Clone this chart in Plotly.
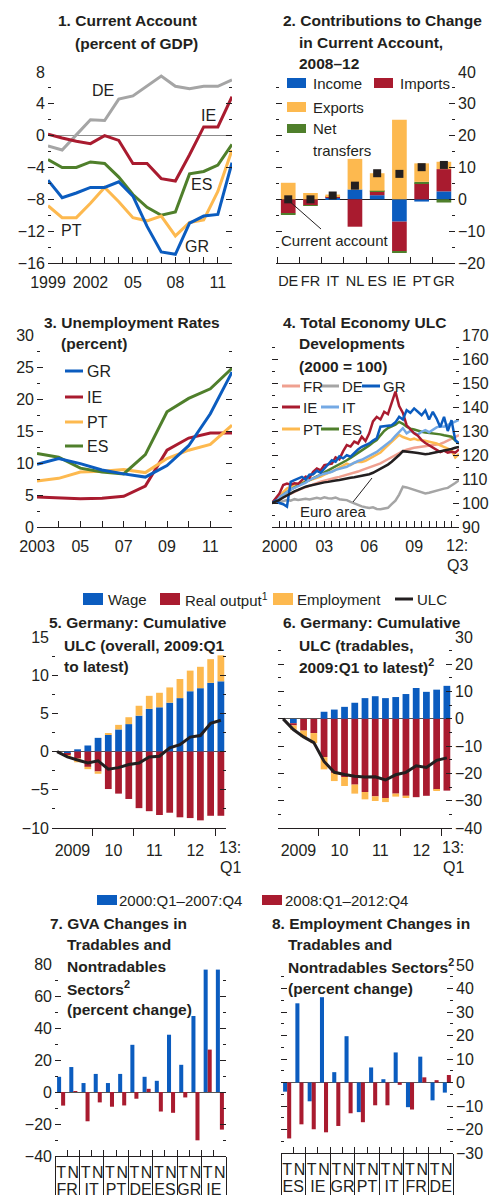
import plotly.graph_objects as go

# The page body adds an 8 px margin, so the figure is drawn 8 px in from the window edge.
OX, OY = 8, 8
W, H = 499 - OX, 1195 - OY
FONT = "Liberation Sans Narrow, Arial Narrow, Liberation Sans, Arial, sans-serif"
BLUE = "#0B5CBF"; RED = "#A91B2F"; YELLOW = "#FDB94F"; GREEN = "#4F7F2B"
GRAY = "#A5A5A5"; SALMON = "#EFA090"; LBLUE = "#74A9E4"; BLACK = "#231F20"

# ---------------- Panel 1: current account (% of GDP) ----------------
years1 = list(range(1999, 2013))
ca_de = [-1.3, -1.8, 0.1, 2.0, 1.9, 4.6, 5.0, 6.2, 7.5, 6.2, 5.9, 6.2, 6.2, 7.0]
ca_ie = [0.2, -0.3, -0.7, -1.0, 0.0, -0.6, -3.5, -3.5, -5.4, -5.7, -2.4, 1.1, 1.1, 4.9]
ca_es = [-3.0, -4.0, -4.0, -3.3, -3.5, -5.2, -7.4, -9.0, -10.0, -9.6, -4.8, -4.5, -3.7, -1.1]
ca_gr = [-5.6, -7.8, -7.2, -6.5, -6.5, -5.8, -7.6, -11.4, -14.6, -14.9, -11.0, -10.1, -9.9, -3.4]
ca_pt = [-8.8, -10.3, -10.3, -8.5, -6.5, -8.3, -10.3, -10.7, -10.1, -12.6, -10.9, -10.6, -7.0, -1.8]
p1_tickvals = [1999, 2002, 2005, 2008, 2011]
p1_ticktext = ["1999", "2002", "05", "08", "11"]

# ---------------- Panel 2: contributions 2008-12 ----------------
countries2 = ["DE", "FR", "IT", "NL", "ES", "IE", "PT", "GR"]
income = [0.0, 0.0, 0.6, 3.1, 1.3, -7.0, -0.7, 2.5]
imports = [-4.4, -1.8, 0.3, -8.6, 1.2, -9.3, 5.0, 7.0]
net_transfers = [-0.3, -0.2, 0.0, 0.0, 0.2, -0.3, 0.5, -1.0]
exports = [5.2, 2.0, 0.6, 9.6, 5.5, 25.0, 5.8, 2.3]
current_account = [0.0, 0.0, 1.2, 4.3, 8.2, 8.0, 10.1, 10.8]

# ---------------- Panel 3: unemployment ----------------
years3 = list(range(2003, 2013))
un_gr = [9.8, 10.7, 9.9, 8.9, 8.3, 7.8, 9.6, 12.7, 17.7, 24.2]
un_ie = [4.7, 4.5, 4.4, 4.5, 4.8, 6.4, 12.0, 13.9, 14.7, 14.7]
un_pt = [7.2, 7.6, 8.6, 8.7, 9.0, 8.5, 10.7, 12.0, 12.9, 15.9]
un_es = [11.5, 10.9, 9.2, 8.6, 8.3, 11.3, 18.0, 20.1, 21.6, 24.8]
p3_tickvals = [2003, 2005, 2007, 2009, 2011]
p3_ticktext = ["2003", "05", "07", "09", "11"]

# ---------------- Panel 4: ULC (2000=100), 2000Q1-2012Q3 ----------------
ulc_ea = [100.0, 100.6, 101.3, 102.3, 103.2, 104.0, 104.8, 105.5, 106.2, 106.8, 107.2, 107.6,
          108.0, 108.4, 108.6, 108.8, 109.2, 109.4, 109.6, 110.0, 110.3, 110.5, 110.7, 111.0,
          111.2, 111.5, 112.0, 112.6, 113.4, 114.2, 115.0, 116.0, 117.2, 118.5, 120.0, 121.6,
          121.5, 121.4, 121.0, 120.8, 120.6, 120.3, 120.5, 120.8, 121.0, 121.3, 121.6, 122.0,
          122.5, 123.0, 123.4]
ulc_de = [100.0, 100.6, 100.3, 100.8, 101.2, 101.0, 101.6, 101.3, 101.4, 101.8, 101.5, 102.0,
          102.2, 101.8, 102.4, 102.0, 101.9, 102.3, 101.6, 101.4, 101.2, 100.5, 99.8, 99.2,
          98.6, 98.2, 97.9, 98.2, 97.5, 97.4, 97.6, 98.0, 99.5, 101.0, 103.5, 106.8,
          106.5, 106.0, 105.5, 105.0, 104.5, 104.0, 104.3, 104.8, 105.2, 105.6, 106.0, 106.3,
          107.2, 108.3, 109.5]
ulc_fr = [100.0, 100.8, 101.6, 102.4, 103.2, 104.0, 104.8, 105.4, 106.0, 106.6, 107.3, 107.9,
          108.4, 108.9, 109.3, 109.8, 110.2, 110.5, 110.9, 111.3, 111.6, 112.1, 112.6, 113.1,
          113.7, 114.2, 114.8, 115.3, 115.8, 116.5, 117.4, 118.3, 119.2, 120.0, 120.8, 121.6,
          122.2, 122.7, 123.0, 123.2, 123.4, 123.6, 123.8, 124.0, 124.2, 124.6, 125.3, 126.0,
          126.8, 127.6, 128.3]
ulc_it = [100.0, 101.0, 102.4, 103.5, 104.5, 105.6, 106.3, 107.0, 107.6, 108.5, 109.6, 110.2,
          110.9, 111.8, 112.2, 112.8, 113.0, 113.8, 114.3, 114.6, 115.1, 116.0, 116.8, 117.5,
          118.0, 118.8, 119.9, 120.6, 121.3, 122.5, 123.8, 125.0, 126.2, 128.0, 129.8, 131.2,
          129.0, 130.0, 129.2, 128.5, 129.7, 130.4, 129.5, 130.6, 131.5, 132.0, 131.8, 132.6,
          133.2, 134.0, 134.6]
ulc_pt = [100.0, 101.6, 103.2, 104.8, 106.0, 106.8, 107.5, 108.0, 108.4, 109.2, 109.5, 110.0,
          110.2, 111.0, 111.8, 112.5, 113.0, 113.8, 114.8, 115.6, 116.4, 115.8, 116.8, 117.2,
          117.1, 117.6, 118.4, 119.2, 119.9, 121.0, 122.6, 124.0, 125.5, 127.0, 128.4, 127.5,
          126.9, 126.4, 126.8, 126.2, 126.2, 125.8, 125.6, 125.2, 124.8, 124.0, 123.4, 122.6,
          122.0, 119.0, 120.4]
ulc_es = [100.0, 101.2, 102.4, 103.6, 104.6, 105.6, 106.6, 107.4, 108.1, 108.8, 109.6, 110.3,
          110.9, 111.8, 112.8, 113.6, 114.4, 115.2, 116.2, 117.0, 117.8, 118.8, 119.8, 121.0,
          122.0, 123.0, 124.0, 125.2, 126.2, 128.2, 130.0, 131.2, 132.0, 132.6, 133.8, 133.0,
          131.8, 131.0, 130.6, 130.0, 129.7, 129.4, 129.2, 129.0, 129.0, 128.6, 128.2, 127.8,
          127.6, 126.0, 124.8]
ulc_gr = [100.0, 101.0, 100.0, 99.5, 98.5, 108.8, 109.5, 110.2, 110.9, 109.8, 111.8, 112.0,
          113.4, 112.6, 114.2, 116.0, 117.8, 117.2, 119.4, 118.6, 119.9, 119.3, 121.0, 122.3,
          123.4, 124.2, 124.8, 126.0, 126.9, 131.8, 132.0, 132.2, 132.4, 133.6, 135.9, 134.8,
          138.7, 137.6, 139.4, 138.0, 136.6, 138.6, 134.8, 138.0, 135.2, 131.6, 135.9, 130.0,
          134.5, 126.2, 124.8]
ulc_ie = [100.0, 102.0, 104.0, 107.5, 108.1, 107.6, 108.2, 108.0, 109.5, 111.0, 110.5, 113.0,
          114.4, 113.6, 115.8, 116.0, 116.4, 119.0, 118.2, 121.5, 124.1, 123.5, 125.6, 124.8,
          127.6, 125.8, 129.0, 134.0, 135.9, 134.8, 138.0, 137.0, 141.5, 146.4, 140.4, 137.5,
          132.4, 130.5, 129.0, 128.0, 126.2, 125.0, 124.0, 123.0, 122.0, 121.2, 121.8, 121.0,
          121.3, 121.0, 122.3]
quarters4 = [y + q / 4 for y in range(2000, 2013) for q in range(4)][:len(ulc_ea)]
p4_tickvals = [2000.5, 2003.5, 2006.5, 2009.5]
p4_ticktext = ["2000", "03", "06", "09"]

# ---------------- Panels 5/6: Germany cumulative ULC, 2009Q1-2013Q1 ----------------
quarters5 = ["2009Q1", "2009Q2", "2009Q3", "2009Q4", "2010Q1", "2010Q2", "2010Q3", "2010Q4",
             "2011Q1", "2011Q2", "2011Q3", "2011Q4", "2012Q1", "2012Q2", "2012Q3", "2012Q4", "2013Q1"]
wage5 = [-0.3, 0.3, 0.8, 1.8, 2.2, 2.9, 3.6, 4.7, 5.6, 5.8, 6.4, 7.0, 7.9, 8.3, 9.0, 9.2]
output5 = [-0.2, -0.9, -2.0, -2.6, -4.9, -5.5, -6.2, -7.4, -7.8, -8.3, -8.0, -8.6, -8.7, -9.0, -8.4, -8.4]
employ5 = [-0.1, -0.5, -0.3, -0.3, 0.2, 0.6, 0.9, 1.3, 1.7, 1.9, 2.0, 2.5, 2.7, 2.8, 3.1, 3.4]
ulc5 = [0.0, -0.7, -1.1, -1.5, -1.2, -2.3, -2.1, -1.7, -1.5, -0.7, -0.6, 0.5, 0.9, 1.9, 2.1, 3.7, 4.1]
wage6 = [-1.6, 0.0, 0.0, 2.6, 3.4, 4.4, 5.9, 7.6, 8.3, 7.6, 8.0, 9.1, 11.3, 9.9, 10.7, 12.1]
output6 = [-0.8, -4.3, -5.2, -14.0, -19.8, -21.3, -24.1, -26.8, -28.4, -29.0, -27.4, -28.2, -28.7, -28.2, -25.9, -26.3]
employ6 = [-1.6, -2.4, -3.7, -4.5, -3.0, -3.3, -3.3, -2.7, -1.7, -1.5, -1.1, -0.8, 0.0, 0.0, -0.4, 0.0]
ulc6 = [0.0, -3.9, -6.6, -8.7, -15.6, -19.6, -20.4, -21.0, -21.3, -21.2, -22.4, -20.5, -19.6, -17.2, -17.8, -15.2, -14.3]
year_labels56 = ["2009", "10", "11", "12"]

# ---------------- Panel 7: GVA changes ----------------
countries7 = ["FR", "IT", "PT", "DE", "ES", "GR", "IE"]
sectors = ["T", "N"]
gva_0007 = [9.5, 15.6, 5.6, 11.3, 5.6, 11.3, 29.5, 9.5, 7.0, 35.8, 17.0, 47.5, 76.5, 76.5]
gva_0812 = [-8.5, 0.3, -18.3, -6.5, -9.2, -8.4, -4.2, 2.0, -12.2, -13.0, -3.4, -30.2, 26.5, -23.5]

# ---------------- Panel 8: employment changes ----------------
countries8 = ["ES", "IE", "GR", "PT", "IT", "FR", "DE"]
emp_0007 = [-3.9, 33.7, -8.0, 36.3, 4.4, 19.7, -12.6, 6.4, 1.4, 12.8, -10.5, 11.0, -7.6, -4.3]
emp_0812 = [-23.8, -17.8, -19.9, -21.2, -18.5, -13.1, -16.9, -9.7, -9.7, -1.0, -11.5, 2.2, 1.0, 3.2]

# =====================================================================
def PX(x):
    return (x - OX) / W

def PY(y):
    return 1 - (y - OY) / H

def dx(a, b):
    return [PX(a), PX(b)]

def dy(top, bot):
    return [PY(bot), PY(top)]

TICKFONT = dict(family=FONT, size=16, color=BLACK)

def stack_bases(series_list):
    n = len(series_list[0])
    pos = [0.0] * n
    neg = [0.0] * n
    out = []
    for s in series_list:
        b = []
        for i, v in enumerate(s):
            if v >= 0:
                b.append(pos[i]); pos[i] += v
            else:
                b.append(neg[i]); neg[i] += v
        out.append(b)
    return out

fig = go.Figure()

# Panel 1
for vals, col in [(ca_de, GRAY), (ca_ie, RED), (ca_es, GREEN), (ca_pt, YELLOW), (ca_gr, BLUE)]:
    fig.add_trace(go.Scatter(x=years1, y=vals, mode="lines", line=dict(color=col, width=3),
                             xaxis="x", yaxis="y", showlegend=False, hoverinfo="skip"))

# Panel 2
s2 = [income, imports, net_transfers, exports]
c2 = [BLUE, RED, GREEN, YELLOW]
for vals, base, col in zip(s2, stack_bases(s2), c2):
    fig.add_trace(go.Bar(x=countries2, y=vals, base=base, marker=dict(color=col, line=dict(width=0)),
                         offsetgroup="p2", xaxis="x2", yaxis="y2", showlegend=False))
fig.add_trace(go.Scatter(x=countries2, y=current_account, mode="markers",
                         marker=dict(symbol="square", size=8, color=BLACK),
                         xaxis="x2", yaxis="y2", showlegend=False))

# Panel 3
for vals, col in [(un_ie, RED), (un_pt, YELLOW), (un_es, GREEN), (un_gr, BLUE)]:
    fig.add_trace(go.Scatter(x=years3, y=vals, mode="lines", line=dict(color=col, width=3),
                             xaxis="x3", yaxis="y3", showlegend=False))

# Panel 4
for vals, col in [(ulc_de, GRAY), (ulc_fr, SALMON), (ulc_pt, YELLOW), (ulc_es, GREEN),
                  (ulc_it, LBLUE), (ulc_ie, RED), (ulc_gr, BLUE), (ulc_ea, BLACK)]:
    fig.add_trace(go.Scatter(x=quarters4, y=vals, mode="lines", line=dict(color=col, width=2.5),
                             xaxis="x4", yaxis="y4", showlegend=False))

# Panels 5 & 6
qidx = list(range(len(quarters5)))
for (w, o, e, u, xa, ya, grp) in [(wage5, output5, employ5, ulc5, "x5", "y5", "p5"),
                                  (wage6, output6, employ6, ulc6, "x6", "y6", "p6")]:
    ss = [w, o, e]
    for vals, base, col in zip(ss, stack_bases(ss), [BLUE, RED, YELLOW]):
        fig.add_trace(go.Bar(x=qidx[1:], y=vals, base=base, marker=dict(color=col, line=dict(width=0)),
                             offsetgroup=grp, xaxis=xa, yaxis=ya, showlegend=False))
    fig.add_trace(go.Scatter(x=qidx, y=u, mode="lines", line=dict(color=BLACK, width=3),
                             xaxis=xa, yaxis=ya, showlegend=False))

# Panels 7 & 8
for (cs, a, b, xa, ya) in [(countries7, gva_0007, gva_0812, "x7", "y7"),
                           (countries8, emp_0007, emp_0812, "x8", "y8")]:
    mx = [[c for c in cs for _ in sectors], [s for _ in cs for s in sectors]]
    fig.add_trace(go.Bar(x=mx, y=a, marker=dict(color=BLUE, line=dict(width=0)),
                         xaxis=xa, yaxis=ya, showlegend=False))
    fig.add_trace(go.Bar(x=mx, y=b, marker=dict(color=RED, line=dict(width=0)),
                         xaxis=xa, yaxis=ya, showlegend=False))

# ---------------- axes ----------------
def yax(xname, top, bot, rng, dtick, mdt, side, zl=None):
    d = dict(domain=dy(top, bot), anchor=xname, range=rng, dtick=dtick, tick0=0, side=side,
             ticks="inside", ticklen=6, tickwidth=1, tickcolor=BLACK, mirror="ticks",
             showline=False, showgrid=False, tickfont=TICKFONT, ticklabelstandoff=2,
             automargin=False,
             minor=dict(dtick=mdt, tick0=0, ticks="inside", ticklen=3, tickwidth=1,
                        tickcolor=BLACK, showgrid=False),
             zeroline=zl is not None, fixedrange=True)
    if zl:
        d.update(zerolinecolor=zl, zerolinewidth=1)
    return d

def xbase(yname, a, b, **kw):
    d = dict(domain=dx(a, b), anchor=yname, showline=True, linecolor=BLACK, linewidth=1,
             showgrid=False, zeroline=False, tickfont=TICKFONT, ticks="inside", ticklen=6,
             tickwidth=1, tickcolor=BLACK, fixedrange=True, automargin=False, tickangle=0)
    d.update(kw)
    return d

def minor_in(dt, t0):
    return dict(dtick=dt, tick0=t0, ticks="inside", ticklen=6, tickwidth=1, tickcolor=BLACK,
                showgrid=False)

layout = dict(
    width=W, height=H, autosize=False, margin=dict(l=0, r=0, t=0, b=0, pad=0),
    paper_bgcolor="white", plot_bgcolor="rgba(0,0,0,0)", barmode="group",
    bargap=0.34, bargroupgap=0, showlegend=False, font=dict(family=FONT, color=BLACK),
)

layout["xaxis"] = xbase("y", 48, 232, range=[1999, 2012], tickmode="array", tickvals=p1_tickvals,
                        ticktext=p1_ticktext, ticklabelstandoff=5, minor=minor_in(1, 1999))
layout["yaxis"] = yax("x", 72, 263, [-16, 8], 4, 2, "left", zl="#8C8C8C")

layout["xaxis2"] = xbase("y2", 276, 455, type="category", range=[-0.55, 7.5], tickson="boundaries",
                         ticklabelstandoff=5, tickfont=dict(family=FONT, size=14.5, color=BLACK))
layout["yaxis2"] = yax("x2", 72, 263, [-20, 40], 10, 5, "right", zl=BLACK)

layout["xaxis3"] = xbase("y3", 37, 232, range=[2003, 2012], tickmode="array", tickvals=p3_tickvals,
                         ticktext=p3_ticktext, ticklabelstandoff=5, minor=minor_in(1, 2003))
layout["yaxis3"] = yax("x3", 335, 527, [0, 30], 5, 2.5, "left")

layout["xaxis4"] = xbase("y4", 272, 459, range=[2000, 2012.5], tickmode="array", tickvals=p4_tickvals,
                         ticktext=p4_ticktext, ticklabelstandoff=5, minor=minor_in(0.5, 2000))
layout["yaxis4"] = yax("x4", 335, 527, [90, 170], 10, 5, "right")

for xa, ya, a, b in [("xaxis5", "y5", 52, 226), ("xaxis6", "y6", 278, 452)]:
    layout[xa] = xbase(ya, a, b, range=[-0.5, 16.5], tickmode="array",
                       tickvals=[1.5 + 4 * i for i in range(len(year_labels56))],
                       ticktext=year_labels56, ticks="", ticklabelstandoff=8,
                       minor=dict(tickvals=[3.5 + 4 * i for i in range(4)], ticks="outside",
                                  ticklen=7, tickwidth=1, tickcolor=BLACK, showgrid=False))
layout["yaxis5"] = yax("x5", 637, 828, [-10, 15], 5, 2.5, "left", zl="#555555")
layout["yaxis6"] = yax("x6", 637, 828, [-40, 30], 10, 5, "right", zl="#555555")

for xa, ya, a, b in [("xaxis7", "y7", 55, 226), ("xaxis8", "y8", 281, 453)]:
    layout[xa] = xbase(ya, a, b, type="multicategory", tickson="boundaries", showdividers=True,
                       dividercolor=BLACK, dividerwidth=1, tickmode="linear", tick0=0, dtick=1,
                       ticklabelstandoff=2)
layout["yaxis7"] = yax("x7", 964, 1156, [-40, 80], 20, 10, "left", zl="#555555")
layout["yaxis8"] = yax("x8", 965, 1153, [-30, 50], 10, 5, "right", zl="#555555")

fig.update_layout(**layout)

# ---------------- annotations & legends ----------------
ann = []
shapes = []

def txt(x, y, s, size=16, bold=False, anchor="left"):
    if bold:
        s = "<b>" + s + "</b>"
    ann.append(dict(x=PX(x), y=PY(y), xref="paper", yref="paper", text=s, showarrow=False,
                    xanchor=anchor, yanchor="middle", borderpad=0,
                    font=dict(family=FONT, size=size, color=BLACK)))

def rect(x0, y0, x1, y1, col):
    shapes.append(dict(type="rect", xref="paper", yref="paper", x0=PX(x0), x1=PX(x1),
                       y0=PY(y1), y1=PY(y0), fillcolor=col, line=dict(width=0)))

def seg(x0, y0, x1, y1, col, w):
    shapes.append(dict(type="line", xref="paper", yref="paper", x0=PX(x0), x1=PX(x1),
                       y0=PY(y0), y1=PY(y1), line=dict(color=col, width=w)))

T = 15.5
L = 15
# titles
txt(57, 20, "1. Current Account", T, True)
txt(74, 43, "(percent of GDP)", T, True)
txt(282, 20, "2. Contributions to Change", T, True)
txt(298, 42, "in Current Account,", T, True)
txt(298, 63, "2008–12", T, True)
txt(43, 322, "3. Unemployment Rates", T, True)
txt(60, 343, "(percent)", T, True)
txt(282, 322, "4. Total Economy ULC", T, True)
txt(298, 343, "Developments", T, True)
txt(298, 366, "(2000 = 100)", T, True)
txt(48, 623, "5. Germany: Cumulative", T, True)
txt(63, 645, "ULC (overall, 2009:Q1", T, True)
txt(63, 666, "to latest)", T, True)
txt(282, 623, "6. Germany: Cumulative", T, True)
txt(298, 645, "ULC (tradables,", T, True)
txt(298, 666, "2009:Q1 to latest)<sup>2</sup>", T, True)
txt(49, 923, "7. GVA Changes in", T, True)
txt(66, 944, "Tradables and", T, True)
txt(66, 966, "Nontradables", T, True)
txt(66, 988, "Sectors<sup>2</sup>", T, True)
txt(66, 1010, "(percent change)", T, True)
txt(271, 923, "8. Employment Changes in", T, True)
txt(287, 944, "Tradables and", T, True)
txt(287, 966, "Nontradables Sectors<sup>2</sup>", T, True)
txt(287, 988, "(percent change)", T, True)

# panel 1 labels
txt(103, 90, "DE", anchor="center")
txt(208, 115, "IE", anchor="center")
txt(201, 185, "ES", anchor="center")
txt(72, 230, "PT", anchor="center")
txt(197, 247, "GR", anchor="center")

# panel 2 legend
rect(287, 78, 306, 88, BLUE); txt(312, 83, "Income", L)
rect(374, 78, 393, 88, RED); txt(399, 83, "Imports", L)
rect(287, 102, 306, 112, YELLOW); txt(312, 107, "Exports", L)
rect(287, 124, 306, 133, GREEN); txt(312, 128, "Net", L); txt(312, 150, "transfers", L)
txt(335, 240, "Current account", L, anchor="center")
seg(321, 229, 288, 200, BLACK, 1)

# panel 3 legend
for (lab, col, yy) in [("GR", BLUE, 371), ("IE", RED, 397), ("PT", YELLOW, 422), ("ES", GREEN, 446)]:
    seg(65, yy, 83, yy, col, 3)
    txt(86, yy, lab)

# panel 4 legend
for (lab, col, x0, yy) in [("FR", SALMON, 282, 386), ("DE", GRAY, 321, 386), ("GR", BLUE, 362, 386),
                           ("IE", RED, 282, 407), ("IT", LBLUE, 321, 407),
                           ("PT", YELLOW, 282, 429), ("ES", GREEN, 321, 429)]:
    seg(x0, yy, x0 + 18, yy, col, 3)
    txt(x0 + 20, yy, lab, L)
txt(333, 511, "Euro area", L, anchor="center")
seg(353, 502, 372, 478, BLACK, 1)
txt(457, 545, "12:", anchor="center")
txt(457, 566, "Q3", anchor="center")

# panel 5/6 legend
rect(83, 593, 103, 605, BLUE); txt(107, 599, "Wage", L)
rect(160, 593, 180, 605, RED); txt(184, 599, "Real output<sup>1</sup>", L)
rect(273, 593, 293, 605, YELLOW); txt(296, 599, "Employment", L)
seg(395, 599, 413, 599, BLACK, 3); txt(416, 599, "ULC", L)
txt(230, 847, "13:", anchor="center"); txt(230, 867, "Q1", anchor="center")
txt(453, 847, "13:", anchor="center"); txt(453, 867, "Q1", anchor="center")

# panel 7/8 legend
rect(97, 895, 117, 905, BLUE); txt(118, 900, "2000:Q1–2007:Q4", L)
rect(262, 895, 282, 905, RED); txt(284, 900, "2008:Q1–2012:Q4", L)

fig.update_layout(annotations=ann, shapes=shapes)
fig.write_html("out.html")
